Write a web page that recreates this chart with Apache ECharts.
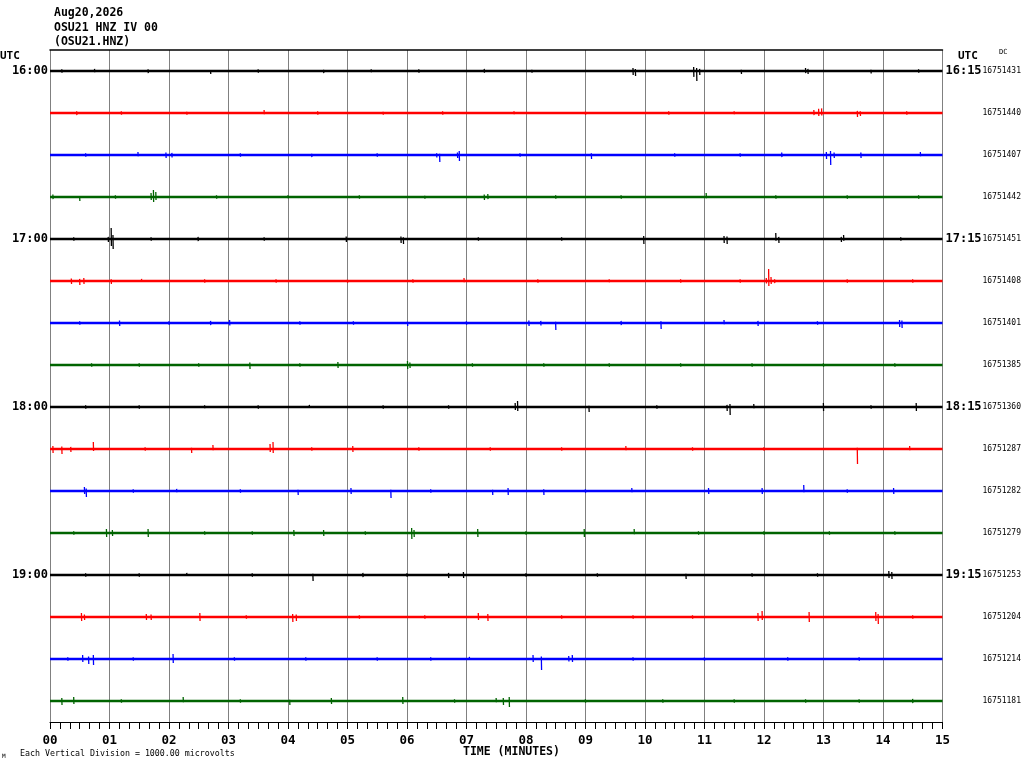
<!DOCTYPE html>
<html>
<head>
<meta charset="utf-8">
<script src="https://cdn.jsdelivr.net/npm/echarts@6/dist/echarts.min.js"></script>
<style>
html,body{margin:0;padding:0;background:#fff;overflow:hidden;}
#c{width:1024px;height:768px;}
</style>
</head>
<body>
<div id="c"></div>
<script>
// ---- data ----
const titleLines = ["Aug20,2026", "OSU21 HNZ IV 00", "(OSU21.HNZ)"];
const minuteTicks = ["00","01","02","03","04","05","06","07","08","09","10","11","12","13","14","15"];
const leftTimeLabels = ["16:00","","","","17:00","","","","18:00","","","","19:00","","",""];
const rightTimeLabels = ["16:15","","","","17:15","","","","18:15","","","","19:15","","",""];
const dcValues = ["16751431","16751440","16751407","16751442","16751451","16751408","16751401","16751385",
                  "16751360","16751287","16751282","16751279","16751253","16751204","16751214","16751181"];
const traceColors = ["#000000","#ff0000","#0000ff","#006400"];
const scaleNote = "Each Vertical Division = 1000.00 microvolts";

// bursts per trace: [minute, peak up (microvolts), peak down (microvolts)]
const trace00 = [[0.20,40,40],[0.75,50,30],[1.65,40,50],[2.70,20,70],[3.50,40,40],[4.60,30,50],[5.40,40,30],[6.20,40,40],[7.30,50,40],[8.10,30,40],[9.80,70,95],[9.84,50,120],[10.82,95,140],[10.87,70,240],[10.92,50,95],[11.62,30,70],[12.70,70,50],[12.74,50,70],[13.80,30,60],[14.60,40,40]];
const trace01 = [[0.45,40,50],[1.20,40,40],[2.30,30,40],[3.60,70,30],[4.50,40,40],[5.60,30,40],[6.60,40,40],[7.80,40,30],[9.00,30,40],[10.40,40,40],[11.50,40,30],[12.84,70,50],[12.92,100,70],[12.97,110,60],[13.57,50,95],[13.62,40,70],[14.40,40,40]];
const trace02 = [[0.60,40,40],[1.48,70,30],[1.95,60,70],[2.05,50,60],[3.20,40,40],[4.40,30,50],[5.50,40,40],[6.50,40,60],[6.55,30,165],[6.85,60,70],[6.88,95,145],[7.90,40,40],[9.10,40,95],[10.50,40,40],[11.60,40,40],[12.30,60,50],[13.05,70,95],[13.12,95,240],[13.18,60,70],[13.63,60,70],[14.63,70,30]];
const trace03 = [[0.05,60,50],[0.50,20,95],[1.10,40,40],[1.70,95,70],[1.74,165,120],[1.78,120,70],[2.80,40,40],[4.00,40,30],[5.20,40,40],[6.30,30,40],[7.30,60,70],[7.36,70,50],[8.50,40,40],[9.60,40,40],[11.03,95,30],[12.20,40,40],[13.40,40,40],[14.60,40,40]];
const trace04 = [[0.40,40,40],[0.98,50,70],[1.03,260,165],[1.06,95,240],[1.70,40,40],[2.49,50,50],[3.60,40,40],[4.98,60,70],[5.90,60,95],[5.94,40,120],[7.20,40,40],[8.60,40,40],[9.98,70,120],[11.33,70,95],[11.38,60,120],[12.20,145,40],[12.25,50,95],[13.30,50,70],[13.34,95,40],[14.30,40,40]];
const trace05 = [[0.36,60,70],[0.50,50,95],[0.57,70,70],[1.03,40,70],[1.54,50,20],[2.60,40,40],[3.80,40,40],[5.00,30,40],[6.10,40,40],[6.96,70,30],[8.20,40,40],[9.40,40,30],[10.60,40,40],[11.60,40,40],[12.04,70,60],[12.08,285,120],[12.12,95,70],[12.18,40,50],[13.40,40,40],[14.50,40,40]];
const trace06 = [[0.50,40,40],[1.17,60,70],[2.00,40,40],[2.70,50,50],[3.02,70,60],[4.20,40,40],[5.10,40,40],[6.01,30,70],[7.00,40,40],[8.05,60,70],[8.25,50,60],[8.50,30,165],[9.60,50,50],[10.27,40,145],[11.33,70,30],[11.90,50,70],[12.90,40,40],[14.28,70,95],[14.32,60,120]];
const trace07 = [[0.70,40,40],[1.50,40,40],[2.50,40,40],[3.36,60,95],[4.20,40,40],[4.84,70,70],[6.01,95,95],[6.05,60,70],[7.10,40,40],[8.30,40,40],[9.40,40,40],[10.60,40,40],[11.80,40,40],[13.00,40,40],[14.20,40,40]];
const trace08 = [[0.60,40,40],[1.50,40,40],[2.60,40,30],[3.50,40,40],[4.36,50,20],[5.60,40,40],[6.70,40,40],[7.82,95,70],[7.86,145,95],[9.06,30,120],[10.20,40,40],[11.38,50,95],[11.43,70,190],[11.83,70,30],[13.00,95,95],[13.80,40,40],[14.56,95,95]];
const trace09 = [[0.05,70,95],[0.20,60,120],[0.35,50,70],[0.73,165,50],[1.60,40,40],[2.38,30,95],[2.74,95,30],[3.70,120,70],[3.75,165,95],[4.40,40,40],[5.09,70,70],[6.20,40,40],[7.40,40,40],[8.60,40,40],[9.68,70,30],[10.80,40,40],[12.00,40,40],[13.57,30,355],[14.45,70,30]];
const trace10 = [[0.58,95,70],[0.61,60,145],[1.40,40,40],[2.13,50,30],[3.20,40,40],[4.17,30,95],[5.06,70,70],[5.73,30,165],[6.40,40,40],[7.44,30,95],[7.70,70,95],[8.30,40,95],[9.00,40,40],[9.78,70,30],[11.07,70,70],[11.97,70,70],[12.67,145,30],[13.40,40,40],[14.18,70,70]];
const trace11 = [[0.40,40,40],[0.95,95,95],[1.05,70,70],[1.65,95,95],[2.60,40,40],[3.40,40,40],[4.10,70,70],[4.60,70,70],[5.30,40,40],[6.08,120,145],[6.12,70,95],[7.19,95,95],[8.00,40,40],[8.98,95,95],[9.82,95,30],[10.90,40,40],[12.00,40,40],[13.10,40,40],[14.20,40,40]];
const trace12 = [[0.60,40,40],[1.50,40,40],[2.30,50,20],[3.40,40,40],[4.42,30,145],[5.26,50,50],[6.00,40,40],[6.70,50,70],[6.95,70,70],[8.00,40,40],[9.20,40,40],[10.69,30,95],[11.80,40,40],[12.90,40,40],[14.10,95,70],[14.15,70,95]];
const trace13 = [[0.53,95,95],[0.58,60,70],[1.62,70,70],[1.70,60,70],[2.52,95,95],[3.30,40,40],[4.08,70,120],[4.14,60,95],[5.20,40,40],[6.30,40,40],[7.20,95,70],[7.36,70,95],[8.60,40,40],[9.80,40,40],[10.80,40,40],[11.90,95,95],[11.97,145,70],[12.76,120,120],[13.88,120,95],[13.92,70,165],[14.50,40,40]];
const trace14 = [[0.30,40,40],[0.55,95,70],[0.65,60,120],[0.73,95,145],[1.40,40,40],[2.07,120,95],[3.10,40,40],[4.30,40,40],[5.50,40,40],[6.40,40,40],[7.05,50,20],[8.12,95,70],[8.26,60,260],[8.72,70,60],[8.78,95,70],[9.80,40,40],[11.00,40,40],[12.40,40,40],[13.60,40,40]];
const trace15 = [[0.20,70,95],[0.40,95,70],[1.20,40,40],[2.24,95,30],[3.20,40,40],[4.03,30,95],[4.73,70,70],[5.93,95,70],[6.80,40,40],[7.50,70,30],[7.62,70,95],[7.72,95,145],[9.00,40,40],[10.30,40,40],[11.50,40,40],[12.70,40,40],[13.60,40,40],[14.50,50,50]];

const traces = [trace00,trace01,trace02,trace03,trace04,trace05,trace06,trace07,
                trace08,trace09,trace10,trace11,trace12,trace13,trace14,trace15];

// ---- build ----
const MICROVOLTS_PER_DIV = 1000;
// each burst becomes its own short stroke from the upper peak to the lower peak
function buildBursts(bursts, idx) {
  const base = idx + 0.5;
  const pts = [];
  bursts.slice().sort((a,b)=>a[0]-b[0]).forEach(b => {
    const t = b[0];
    pts.push([t - 0.002, base - b[1] / MICROVOLTS_PER_DIV]);
    pts.push([t + 0.002, base + b[2] / MICROVOLTS_PER_DIV]);
    pts.push([t, null]);
  });
  return pts;
}

const mono = "'DejaVu Sans Mono', monospace";
const series = [];
traces.forEach((tr, i) => {
  const col = traceColors[i % 4];
  series.push({
    type: 'line', xAxisIndex: 0, yAxisIndex: 3,
    data: [[0, i + 0.5], [15, i + 0.5]],
    showSymbol: false, symbol: 'none', silent: true, animation: false,
    lineStyle: { color: col, width: 2.6 }, z: 3
  });
  series.push({
    type: 'line', xAxisIndex: 0, yAxisIndex: 3,
    data: buildBursts(tr, i),
    connectNulls: false,
    showSymbol: false, symbol: 'none', silent: true, animation: false,
    lineStyle: { color: col, width: 1.3, cap: 'butt' }, z: 4
  });
});

const chart = echarts.init(document.getElementById('c'), null, { renderer: 'canvas' });
chart.setOption({
  backgroundColor: '#ffffff',
  animation: false,
  title: {
    text: titleLines.join('\n'),
    left: 49, top: 1,
    textStyle: { fontFamily: mono, fontWeight: 'bold', fontSize: 11.5, color: '#000', lineHeight: 14.5 }
  },
  grid: { left: 50, width: 897, top: 50, height: 672, containLabel: false },
  xAxis: [{
    type: 'value', min: 0, max: 15, interval: 1, position: 'bottom',
    axisLine: { show: true, onZero: false, lineStyle: { color: '#000', width: 1 } },
    axisTick: { show: true, length: 7, lineStyle: { color: '#000' } },
    minorTick: { show: true, splitNumber: 6, length: 7, lineStyle: { color: '#000' } },
    splitLine: { show: true, lineStyle: { color: '#808080', width: 1 } },
    axisLabel: { margin: 12, fontFamily: mono, fontWeight: 'bold', fontSize: 12.5, color: '#000',
                 formatter: v => minuteTicks[Math.round(v)] }
  }, {
    type: 'value', min: 0, max: 15, position: 'top',
    axisLine: { show: true, onZero: false, lineStyle: { color: '#000', width: 1.5 } },
    axisTick: { show: false }, axisLabel: { show: false }, splitLine: { show: false }
  }],
  yAxis: [{
    type: 'category', data: leftTimeLabels, inverse: true, position: 'left',
    axisLine: { show: false }, axisTick: { show: false }, splitLine: { show: false },
    axisLabel: { margin: 2, interval: 0, fontFamily: mono, fontWeight: 'bold', fontSize: 12, color: '#000' }
  }, {
    type: 'category', data: rightTimeLabels, inverse: true, position: 'right',
    axisLine: { show: false }, axisTick: { show: false }, splitLine: { show: false },
    axisLabel: { margin: 3, interval: 0, fontFamily: mono, fontWeight: 'bold', fontSize: 12, color: '#000' }
  }, {
    type: 'category', data: dcValues, inverse: true, position: 'right', offset: 40,
    axisLine: { show: false }, axisTick: { show: false }, splitLine: { show: false },
    axisLabel: { margin: 0, interval: 0, fontFamily: mono, fontSize: 8, color: '#000' }
  }, {
    type: 'value', min: 0, max: 16, inverse: true, show: false
  }],
  graphic: [
    { type: 'text', left: 0, top: 51, style: { text: 'UTC', font: "bold 11px 'DejaVu Sans Mono'", fill: '#000' } },
    { type: 'text', left: 958, top: 51, style: { text: 'UTC', font: "bold 11px 'DejaVu Sans Mono'", fill: '#000' } },
    { type: 'text', left: 999, top: 49, style: { text: 'DC', font: "7px 'DejaVu Sans Mono'", fill: '#000' } },
    { type: 'text', left: 463, top: 746, style: { text: 'TIME (MINUTES)', font: "bold 11.5px 'DejaVu Sans Mono'", fill: '#000' } },
    { type: 'text', left: 20, top: 750, style: { text: scaleNote, font: "8.3px 'DejaVu Sans Mono'", fill: '#000' } },
    { type: 'text', left: 2, top: 753, style: { text: 'M', font: "6px 'DejaVu Sans Mono'", fill: '#000' } }
  ],
  series: series
});
</script>
</body>
</html>
